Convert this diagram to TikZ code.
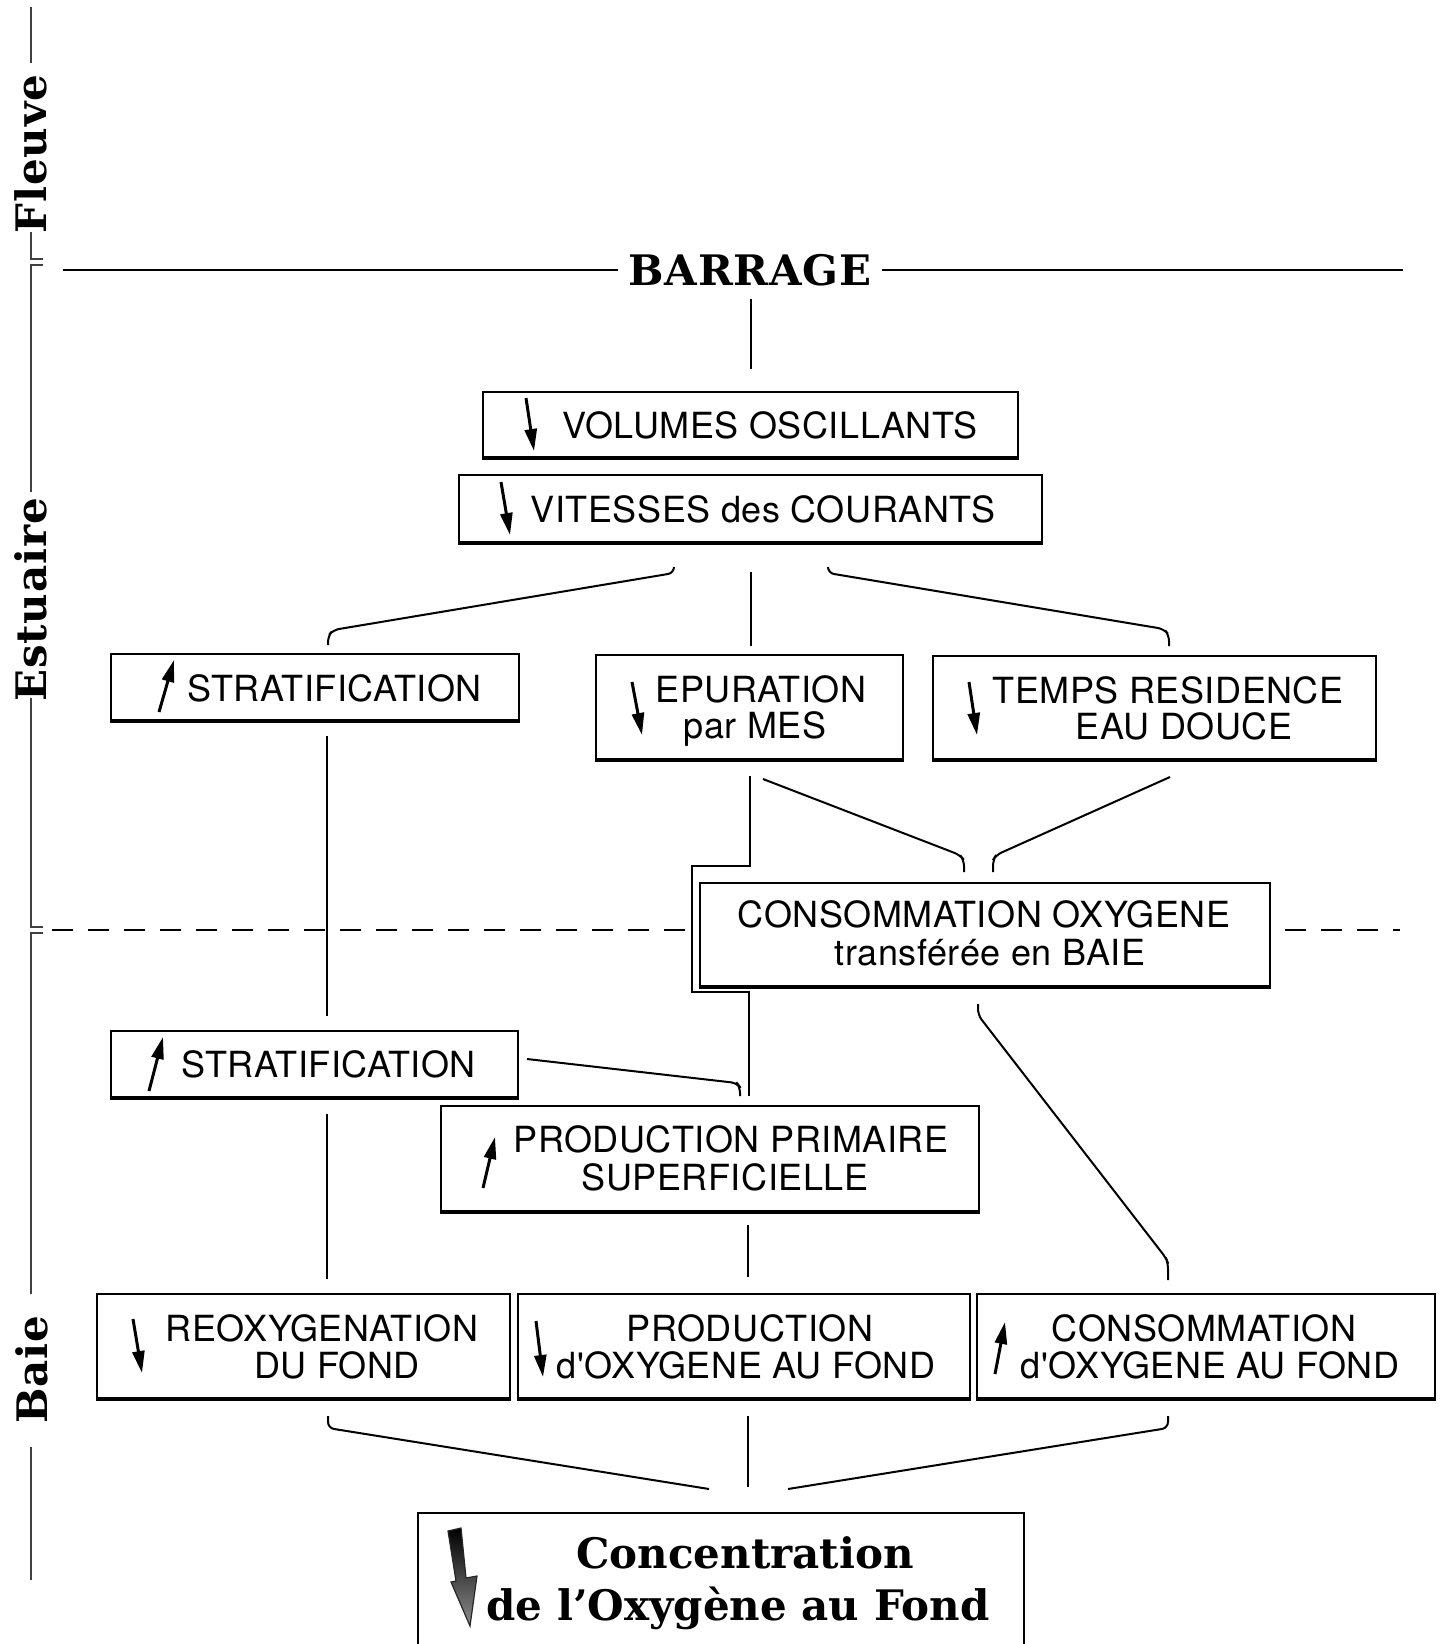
\documentclass[tikz,border=0pt]{standalone}
\usepackage{fontspec}
\newfontfamily\boxfont[LetterSpace=1.5]{TeX Gyre Heros}
\newfontfamily\titlefont[LetterSpace=2]{DejaVu Serif}
\newfontfamily\concfont{DejaVu Serif}
\usetikzlibrary{arrows.meta}
\begin{document}
\begin{tikzpicture}[x=0.5pt,y=-0.5pt,
  box/.style={draw, line width=1pt, inner sep=0pt},
  bottomline/.style={line width=2.2pt},
  conn/.style={line width=1pt, rounded corners=3pt},
  axisline/.style={line width=0.7pt, black!75},
  lbl/.style={font=\boxfont\fontsize{18}{20}\selectfont, anchor=base, inner sep=0pt},
  ttl/.style={font=\titlefont\bfseries\fontsize{21}{24}\selectfont, inner sep=0pt},
  conc/.style={font=\concfont\bfseries\fontsize{21}{24}\selectfont, inner sep=0pt, anchor=base},
  inarrow/.style={line width=1.5pt,-{Triangle[length=11pt,width=6pt]}},
]
\fill[white] (0,0) rectangle (1444,1644);
\useasboundingbox (0,0) rectangle (1444,1644);

% ---- side scale ----
\node[ttl, rotate=90] (fleuve) at (31,154) {Fleuve};
\node[ttl, rotate=90] (estuaire) at (31,600) {Estuaire};
\node[ttl, rotate=90] (baie) at (32,1370) {Baie};
\draw[axisline] (31,7) -- (31,63);
\draw[axisline] (31,232) -- (31,259) -- (43,259);
\draw[axisline] (43,265) -- (31,265) -- (31,492);
\draw[axisline] (31,698) -- (31,927) -- (43,927);
\draw[axisline] (43,933) -- (31,933) -- (31,1294);
\draw[axisline] (31,1447) -- (31,1580);

% ---- barrage ----
\node[ttl, inner xsep=5pt] (barrage) at (750,270) {BARRAGE};
\coordinate (bl) at (63,270);
\coordinate (br) at (1403,270);
\draw[line width=1pt] (bl) -- (bl -| barrage.west);
\draw[line width=1pt] (barrage.east) -- (br |- barrage.east);

% ---- dashed limit ----
\draw[line width=1pt, dash pattern=on 10.5pt off 7.5pt] (52,930) -- (687,930);
\draw[line width=1pt, dash pattern=on 10.5pt off 7.5pt] (1285,930) -- (1400,930);

% ---- boxes ----
\node[box, minimum width=267.5pt, minimum height=32.5pt] (vol) at (750.5,424.5) {};
\node[box, minimum width=291.5pt, minimum height=33.5pt] (vit) at (750.5,508.5) {};
\node[box, minimum width=204pt, minimum height=33pt] (strA) at (315,687) {};
\node[box, minimum width=153.5pt, minimum height=52pt] (epu) at (749.5,707) {};
\node[box, minimum width=221.5pt, minimum height=51.5pt] (tem) at (1154.5,707.5) {};
\node[box, minimum width=285pt, minimum height=51.5pt] (con) at (985,934.5) {};
\node[box, minimum width=203.5pt, minimum height=33pt] (strB) at (314.5,1064) {};
\node[box, minimum width=269pt, minimum height=52.5pt] (ppr) at (710,1158.5) {};
\node[box, minimum width=206.5pt, minimum height=52pt] (reo) at (303.5,1346) {};
\node[box, minimum width=226pt, minimum height=52pt] (pro) at (744,1346) {};
\node[box, minimum width=229pt, minimum height=52pt] (cso) at (1206,1346) {};
\node[inner sep=0pt, minimum width=303pt, minimum height=65.5pt] (cnc) at (721,1578.5) {};
\draw[line width=1pt] (cnc.south west) -- (cnc.north west) -- (cnc.north east) -- (cnc.south east);
\foreach \n in {vol,vit,strA,epu,tem,con,strB,ppr,reo,pro,cso} {
  \draw[bottomline] (\n.south west) -- (\n.south east);
}

% ---- texts ----
\node[lbl] (tvol) at (770,438) {VOLUMES OSCILLANTS};
\node[lbl] (tvit) at (763,522) {VITESSES des COURANTS};
\node[lbl] (tstrA) at (335,701) {STRATIFICATION};
\node[lbl] (tepu1) at (761,702) {EPURATION};
\node[lbl] (tepu2) at (755,738) {par MES};
\node[lbl] (ttem1) at (1168,703) {TEMPS RESIDENCE};
\node[lbl] (ttem2) at (1184,739) {EAU DOUCE};
\node[lbl] (tcon1) at (984,927) {CONSOMMATION OXYGENE};
\node[lbl] (tcon2) at (990,965) {transférée en BAIE};
\node[lbl] (tstrB) at (329,1077) {STRATIFICATION};
\node[lbl] (tppr1) at (731,1152) {PRODUCTION PRIMAIRE};
\node[lbl] (tppr2) at (725,1190) {SUPERFICIELLE};
\node[lbl] (treo1) at (322,1341) {REOXYGENATION};
\node[lbl] (treo2) at (337,1378) {DU FOND};
\node[lbl] (tpro1) at (750,1341) {PRODUCTION};
\node[lbl] (tpro2) at (746,1378) {d'OXYGENE AU FOND};
\node[lbl] (tcso1) at (1204,1341) {CONSOMMATION};
\node[lbl] (tcso2) at (1210,1378) {d'OXYGENE AU FOND};
\node[conc] (tcnc1) at (745,1568) {Concentration};
\node[conc] (tcnc2) at (738,1620) {de l’Oxygène au Fond};

% ---- arrows in boxes ----
\draw[inarrow] (526,398) -- (534,451);
\draw[inarrow] (501,482) -- (510,535);
\draw[inarrow] (159,712) -- (174,660);
\draw[inarrow] (632,682) -- (642,735);
\draw[inarrow] (969,682) -- (977,735);
\draw[inarrow] (149,1091) -- (163,1037);
\draw[inarrow] (483,1188) -- (495,1137);
\draw[inarrow] (133,1319) -- (142,1373);
\draw[inarrow] (536,1321) -- (543,1377);
\draw[inarrow] (995,1374) -- (1005,1322);
\shade[top color=black, bottom color=black!45, draw=black!85, line width=0.6pt]
  (448,1531) -- (461,1528) -- (466,1578) -- (477,1576) -- (470,1626) -- (451,1582) -- (456,1581) -- cycle;

% ---- connectors ----
\coordinate (a0) at (751,299); \coordinate (a1) at (751,369);
\draw[conn] (a0) -- (a1);

\coordinate (vl0) at (674,567); \coordinate (vl1) at (328,645);
\draw[conn] (vl0) -- (674,573) -- (333,630) -- (328,636) -- (vl1);
\coordinate (vm0) at (751,572); \coordinate (vm1) at (751,646);
\draw[conn] (vm0) -- (vm1);
\coordinate (vr0) at (828,567); \coordinate (vr1) at (1169,646);
\draw[conn] (vr0) -- (828,573) -- (1164,629) -- (1169,635) -- (vr1);

\coordinate (sa0) at (327,736); \coordinate (sa1) at (327,1016);
\draw[conn] (sa0) -- (sa1);

\coordinate (e0) at (750,776); \coordinate (e1) at (749,1096);
\draw[line width=1pt] (e0) -- (750,866) -- (692,866) -- (692,992) -- (749,992) -- (e1);

\coordinate (ec0) at (763,779); \coordinate (ec1) at (964,872);
\draw[conn] (ec0) -- (960,855) -- (964,860) -- (ec1);
\coordinate (tc0) at (1170,777); \coordinate (tc1) at (993,872);
\draw[conn] (tc0) -- (996,855) -- (993,860) -- (tc1);

\coordinate (cc0) at (978,1004); \coordinate (cc1) at (1168,1280);
\draw[conn] (cc0) -- (978,1015) -- (1166,1258) -- (1168,1263) -- (cc1);

\coordinate (sp0) at (527,1059); \coordinate (sp1) at (740,1096);
\draw[conn] (sp0) -- (737,1083) -- (740,1087) -- (sp1);

\coordinate (sr0) at (327,1114); \coordinate (sr1) at (327,1279);
\draw[conn] (sr0) -- (sr1);

\coordinate (pp0) at (748,1225); \coordinate (pp1) at (748,1277);
\draw[conn] (pp0) -- (pp1);

\coordinate (bl0) at (328,1416); \coordinate (bl1) at (709,1489);
\draw[conn] (bl0) -- (328,1428) -- (bl1);
\coordinate (bm0) at (748,1416); \coordinate (bm1) at (748,1487);
\draw[conn] (bm0) -- (bm1);
\coordinate (br0) at (1168,1416); \coordinate (br1) at (788,1489);
\draw[conn] (br0) -- (1168,1428) -- (br1);
\end{tikzpicture}
\end{document}
